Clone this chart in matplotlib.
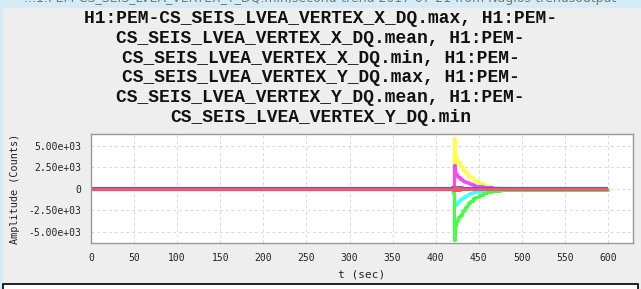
"""
Trend plot of the LVEA vertex seismometer channels (second-trend max/mean/min).
"""

import matplotlib
matplotlib.use("Agg")
import matplotlib.pyplot as plt
from matplotlib.patches import Rectangle

t_sec = [0, 419, 420, 421, 422, 423, 424, 425, 426, 428, 430, 432, 434, 436,
         438, 440, 443, 446, 450, 455, 460, 465, 470, 475, 480, 485, 600]

x_max = [0, 0, 300, 5900, 4900, 4100, 3700, 3300, 3000, 2700, 2400, 2200, 2000,
         1750, 1550, 1350, 1050, 900, 650, 450, 330, 250, 180, 130, 80, 40, 0]
y_max = [0, 0, 200, 2800, 2300, 1900, 1700, 1500, 1350, 1200, 1050, 950, 850,
         750, 650, 550, 450, 380, 300, 220, 170, 130, 100, 80, 60, 40, 40]
x_min = [0, 0, -200, -1500, -1900, -1850, -1800, -1600, -1400, -1200, -1000,
         -900, -800, -700, -600, -500, -400, -330, -250, -180, -130, -100, -70,
         -50, -40, -30, 0]
y_min = [0, 0, -500, -5900, -4800, -4300, -3900, -3600, -3300, -3000, -2700,
         -2400, -2100, -1850, -1600, -1400, -1100, -900, -650, -450, -330, -250,
         -200, -160, -130, -100, 0]
x_mean = [40, 40, 60, 150, -80, 120, -60, 90, 40, 60, 40, 40, 40, 40, 40, 40,
          40, 40, 40, 40, 40, 40, 40, 40, 40, 40, 40]
y_mean = [0, 0, -100, 250, -150, 200, -100, 120, -80, 60, -40, 30, 0, 0, 0, 0,
          0, 0, 0, 0, 0, 0, 0, 0, 0, 0, 0]

x_ticks = [0, 50, 100, 150, 200, 250, 300, 350, 400, 450, 500, 550, 600]
y_ticks = [-5000, -2500, 0, 2500, 5000]
y_tick_labels = ["-5.00e+03", "-2.50e+03", "0", "2.50e+03", "5.00e+03"]

channels = [
    "H1:PEM-CS_SEIS_LVEA_VERTEX_X_DQ.max",
    "H1:PEM-CS_SEIS_LVEA_VERTEX_X_DQ.mean",
    "H1:PEM-CS_SEIS_LVEA_VERTEX_X_DQ.min",
    "H1:PEM-CS_SEIS_LVEA_VERTEX_Y_DQ.max",
    "H1:PEM-CS_SEIS_LVEA_VERTEX_Y_DQ.mean",
    "H1:PEM-CS_SEIS_LVEA_VERTEX_Y_DQ.min",
]

# the title wraps the channel list onto six lines
title_lines = [
    "H1:PEM-CS_SEIS_LVEA_VERTEX_X_DQ.max, H1:PEM-",
    "CS_SEIS_LVEA_VERTEX_X_DQ.mean, H1:PEM-",
    "CS_SEIS_LVEA_VERTEX_X_DQ.min, H1:PEM-",
    "CS_SEIS_LVEA_VERTEX_Y_DQ.max, H1:PEM-",
    "CS_SEIS_LVEA_VERTEX_Y_DQ.mean, H1:PEM-",
    "CS_SEIS_LVEA_VERTEX_Y_DQ.min",
]

mono = "DejaVu Sans Mono"
W, H = 641, 289

fig = plt.figure(figsize=(W / 100, H / 100), dpi=100)
fig.patch.set_facecolor("#eeeeee")

# page decorations around the plot image
fig.add_artist(Rectangle((0, 1 - 8 / H), 1, 8 / H, transform=fig.transFigure,
                         facecolor="#d4ecf6", edgecolor="none"))
fig.add_artist(Rectangle((0, 0), 3 / W, 1, transform=fig.transFigure,
                         facecolor="#d4ecf6", edgecolor="none"))
fig.add_artist(Rectangle((3 / W, -0.1), 635 / W, 0.1 + 5 / H,
                         transform=fig.transFigure, facecolor="white",
                         edgecolor="black", linewidth=1.2))
fig.text(0.5, 1 - 5 / H,
         "...1:PEM-CS_SEIS_LVEA_VERTEX_Y_DQ.min,second-trend 2017-07-21 from Nagios-trendsoutput",
         ha="center", va="bottom", fontsize=9, color="#777777", family="DejaVu Sans")

for i, line in enumerate(title_lines):
    fig.text(0.5, 1 - (23 + 19.8 * i) / H, line, ha="center", va="baseline",
             fontsize=12.9, fontweight="bold", family="Liberation Mono",
             color="#111111")

ax = fig.add_axes([91 / W, 46 / H, 542 / W, 109 / H])
ax.set_facecolor("white")

series = [
    (x_max, "#ffff44"),
    (y_max, "#ff44ff"),
    (x_min, "#44ffff"),
    (y_min, "#44ff44"),
    (x_mean, "#5555ff"),
    (y_mean, "#f0566c"),
]
for (vals, col), name in zip(series, channels):
    lw = 3.0 if name.endswith("Y_DQ.mean") else 2.2
    ax.plot(t_sec, vals, drawstyle="steps-post", color=col, linewidth=lw,
            label=name, solid_capstyle="butt")

ax.set_xlim(0, 629)
ax.set_ylim(-6300, 6400)
ax.set_xticks(x_ticks)
ax.set_yticks(y_ticks)
ax.set_yticklabels(y_tick_labels)
ax.tick_params(length=0, pad=7, labelsize=7, colors="#222222")
for lab in ax.get_xticklabels() + ax.get_yticklabels():
    lab.set_family(mono)
ax.grid(True, linestyle=(0, (3, 3)), color="#d8d8d8", linewidth=0.7)
ax.set_axisbelow(True)
for sp in ax.spines.values():
    sp.set_color("#999999")
    sp.set_linewidth(1.0)

ax.set_xlabel("t (sec)", family=mono, fontsize=8, labelpad=5, color="#222222")
ax.set_ylabel("Amplitude (Counts)", family=mono, fontsize=7.3, labelpad=6,
              color="#222222")

fig.savefig("out.png", dpi=100, facecolor=fig.get_facecolor())
